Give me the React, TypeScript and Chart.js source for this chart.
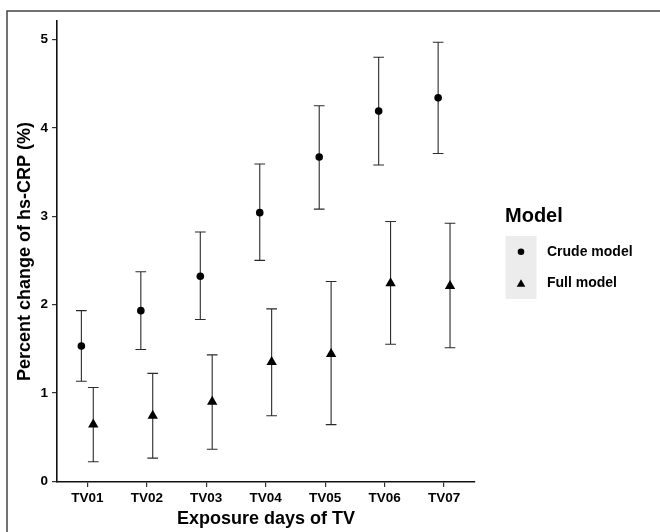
import React, { useEffect, useRef } from "react";
import { Chart, registerables } from "chart.js";

Chart.register(...registerables);

const categories = ["TV01", "TV02", "TV03", "TV04", "TV05", "TV06", "TV07"];
const crudeEst = [1.53, 1.93, 2.32, 3.04, 3.67, 4.19, 4.34];
const crudeLow = [1.13, 1.49, 1.83, 2.5, 3.08, 3.58, 3.71];
const crudeHigh = [1.93, 2.37, 2.82, 3.59, 4.25, 4.8, 4.97];
const fullEst = [0.64, 0.74, 0.9, 1.35, 1.44, 2.24, 2.21];
const fullLow = [0.22, 0.26, 0.36, 0.74, 0.64, 1.55, 1.51];
const fullHigh = [1.06, 1.22, 1.43, 1.95, 2.26, 2.94, 2.92];
const yTicks = [0, 1, 2, 3, 4, 5];
const seriesNames = ["Crude model", "Full model"];
const legendTitle = "Model";
const dodge = 0.1;
const capHalf = 0.09;

const FONT = '"Liberation Sans", Arial, Helvetica, sans-serif';

function drawMarker(ctx: CanvasRenderingContext2D, style: string, x: number, y: number, r: number) {
  ctx.beginPath();
  if (style === "circle") {
    ctx.arc(x, y, r, 0, Math.PI * 2);
  } else {
    const ang = (2 * Math.PI) / 3;
    let a = 0;
    ctx.moveTo(x + Math.sin(a) * r, y - Math.cos(a) * r);
    a += ang;
    ctx.lineTo(x + Math.sin(a) * r, y - Math.cos(a) * r);
    a += ang;
    ctx.lineTo(x + Math.sin(a) * r, y - Math.cos(a) * r);
    ctx.closePath();
  }
  ctx.fill();
}

const errorBarPlugin = {
  id: "errorBars",
  beforeDatasetsDraw(chart: any) {
    const { ctx, scales } = chart;
    const xs = scales.x;
    const ys = scales.y;
    ctx.save();
    ctx.strokeStyle = "#2b2b2b";
    ctx.lineWidth = 1.1;
    chart.data.datasets.forEach((ds: any) => {
      ds.data.forEach((pt: any, i: number) => {
        const lo = ds.errLow[i];
        const hi = ds.errHigh[i];
        const x = xs.getPixelForValue(pt.x);
        const xl = xs.getPixelForValue(pt.x - capHalf);
        const xr = xs.getPixelForValue(pt.x + capHalf);
        const yl = ys.getPixelForValue(lo);
        const yh = ys.getPixelForValue(hi);
        ctx.beginPath();
        ctx.moveTo(x, yl);
        ctx.lineTo(x, yh);
        ctx.moveTo(xl, yl);
        ctx.lineTo(xr, yl);
        ctx.moveTo(xl, yh);
        ctx.lineTo(xr, yh);
        ctx.stroke();
      });
    });
    ctx.restore();
  },
};

const decorPlugin = {
  id: "decor",
  beforeDraw(chart: any) {
    const { ctx, width, height } = chart;
    ctx.save();
    ctx.fillStyle = "#ffffff";
    ctx.fillRect(0, 0, width, height);
    ctx.strokeStyle = "#444444";
    ctx.lineWidth = 1.5;
    ctx.beginPath();
    ctx.moveTo(7, height);
    ctx.lineTo(7, 11);
    ctx.lineTo(width, 11);
    ctx.stroke();
    ctx.restore();
  },
  afterDraw(chart: any) {
    const { ctx } = chart;
    ctx.save();
    ctx.fillStyle = "#000";
    ctx.font = `bold 20px ${FONT}`;
    ctx.textAlign = "left";
    ctx.textBaseline = "middle";
    ctx.fillText(legendTitle, 505, 216);
    const keyX = 505.5;
    const keyY = 236;
    const keyW = 31;
    const keyH = 31.5;
    ctx.fillStyle = "#ececec";
    ctx.fillRect(keyX, keyY, keyW, keyH * 2);
    const styles = ["circle", "triangle"];
    const radii = [3.3, 5];
    seriesNames.forEach((name, i) => {
      const cy = keyY + keyH * i + keyH / 2;
      ctx.fillStyle = "#000";
      drawMarker(ctx, styles[i], keyX + keyW / 2, cy + (i === 1 ? 1 : 0), radii[i]);
      ctx.fillStyle = "#000";
      ctx.font = `bold 14px ${FONT}`;
      ctx.fillText(name, 547, cy);
    });
    ctx.restore();
  },
};

export default function App() {
  const ref = useRef<HTMLCanvasElement | null>(null);
  useEffect(() => {
    if (!ref.current) return;
    const chart = new Chart(ref.current, {
      type: "scatter",
      data: {
        datasets: [
          {
            label: seriesNames[0],
            data: crudeEst.map((v, i) => ({ x: i + 1 - dodge, y: v })),
            errLow: crudeLow,
            errHigh: crudeHigh,
            pointStyle: "circle",
            pointRadius: 3.8,
            backgroundColor: "#000",
            borderColor: "#000",
            borderWidth: 0,
          } as any,
          {
            label: seriesNames[1],
            data: fullEst.map((v, i) => ({ x: i + 1 + dodge, y: v })),
            errLow: fullLow,
            errHigh: fullHigh,
            pointStyle: "triangle",
            pointRadius: 6,
            backgroundColor: "#000",
            borderColor: "#000",
            borderWidth: 0,
          } as any,
        ],
      },
      options: {
        responsive: false,
        animation: false,
        devicePixelRatio: 1,
        layout: { padding: { left: 8, top: 21, right: 185, bottom: 0 } },
        plugins: {
          legend: { display: false },
          tooltip: { enabled: false },
        },
        scales: {
          x: {
            type: "linear",
            min: 0.49,
            max: 7.52,
            afterFit: (s: any) => {
              s.height = 50;
            },
            afterBuildTicks: (s: any) => {
              s.ticks = categories.map((_, i) => ({ value: i + 1 }));
            },
            ticks: {
              color: "#000",
              font: { family: FONT, size: 13.5, weight: "bold" },
              padding: 3,
              maxRotation: 0,
              callback: (v: any) => categories[Number(v) - 1] ?? "",
            },
            grid: {
              drawOnChartArea: false,
              drawTicks: true,
              tickLength: 5,
              color: "#333",
              lineWidth: 1.2,
            },
            border: { display: true, color: "#111", width: 1.6 },
            title: {
              display: true,
              text: "Exposure days of TV",
              color: "#000",
              font: { family: FONT, size: 18, weight: "bold" },
              padding: { top: 0, bottom: 2 },
            },
          },
          y: {
            type: "linear",
            min: -0.01,
            max: 5.21,
            afterFit: (s: any) => {
              s.width = 49;
            },
            afterBuildTicks: (s: any) => {
              s.ticks = yTicks.map((v) => ({ value: v }));
            },
            ticks: {
              color: "#000",
              font: { family: FONT, size: 13.5, weight: "bold" },
              padding: 4,
            },
            grid: {
              drawOnChartArea: false,
              drawTicks: true,
              tickLength: 5,
              color: "#333",
              lineWidth: 1.2,
            },
            border: { display: true, color: "#111", width: 1.6 },
            title: {
              display: true,
              text: "Percent change of hs-CRP (%)",
              color: "#000",
              font: { family: FONT, size: 18, weight: "bold" },
              padding: { top: 6, bottom: 0 },
            },
          },
        },
      },
      plugins: [decorPlugin, errorBarPlugin],
    });
    return () => chart.destroy();
  }, []);
  return (
    <div style={{ position: "absolute", left: 0, top: 0, width: 660, height: 532 }}>
      <canvas ref={ref} width={660} height={532} style={{ display: "block" }} />
    </div>
  );
}
